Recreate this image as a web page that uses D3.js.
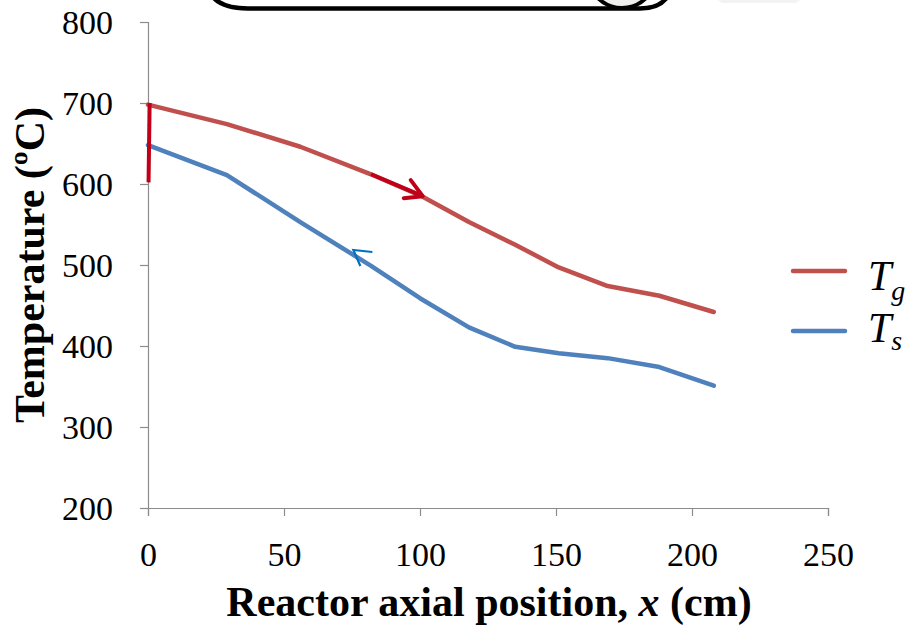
<!DOCTYPE html>
<html>
<head>
<meta charset="utf-8">
<script src="https://cdn.jsdelivr.net/npm/d3@7"></script>
<style>
  body { margin: 0; background: #fff; }
  svg text { font-family: "Liberation Serif", "Times New Roman", serif; }
</style>
</head>
<body>
<div id="grafica"></div>
<script>
"use strict";

// posicion axial (cm)
const posicion = [0, 29, 56, 82, 100, 118, 135, 151, 169, 188, 208];
// temperatura del gas
const tempGas = [698, 674, 646, 612, 586, 553, 525, 497, 474, 462, 442];
// temperatura del solido
const tempSolido = [648, 611, 553, 499, 459, 423, 399, 391, 385, 374, 351];
const ticksX = [0, 50, 100, 150, 200, 250];
const ticksY = [200, 300, 400, 500, 600, 700, 800];
const series = [
    { nombre: "g", valores: tempGas, color: "#C0504D" },
    { nombre: "s", valores: tempSolido, color: "#4F81BD" }
];
// anotaciones (en unidades de datos)
const lineaInicio = [[0.6, 700], [0.2, 602]];
const flechaGas = [[82, 612], [101, 585]];
const flechaSolido = [[77, 517], [75.5, 518.5]];

const width = 905, height = 628;
const svg = d3.select("#grafica").append("svg")
    .attr("width", width)
    .attr("height", height);

const x = d3.scaleLinear().domain([0, 250]).range([148, 828]);
const y = d3.scaleLinear().domain([200, 800]).range([508, 22]);

// recuadro recortado arriba
svg.append("path")
    .attr("d", "M718,0 L800,0 L796,3 L722,3 Z")
    .attr("fill", "#f3f3f3");
svg.append("path")
    .attr("d", "M212,-4 Q222,8.5 248,8.5 L640,8.5 Q660,8.5 668,-4")
    .attr("fill", "none")
    .attr("stroke", "#000")
    .attr("stroke-width", 4.5);
svg.append("circle")
    .attr("cx", 622)
    .attr("cy", -26)
    .attr("r", 34)
    .attr("fill", "#eeeeea")
    .attr("stroke", "#000")
    .attr("stroke-width", 4);

// ejes
const ejeY = svg.append("g")
    .attr("transform", "translate(" + x(0) + ",0)")
    .call(d3.axisLeft(y).tickValues(ticksY).tickSize(8).tickPadding(27).tickFormat(d3.format("d")));
const ejeX = svg.append("g")
    .attr("transform", "translate(0," + y(200) + ")")
    .call(d3.axisBottom(x).tickValues(ticksX).tickSize(8).tickPadding(26).tickFormat(d3.format("d")));
[ejeY, ejeX].forEach(function (eje) {
    eje.attr("font-family", null);
    eje.select(".domain").attr("stroke", "#8c8c8c").attr("stroke-width", 1.2);
    eje.selectAll(".tick line").attr("stroke", "#8c8c8c").attr("stroke-width", 1.2);
    eje.selectAll(".tick text")
        .attr("fill", "#000")
        .style("font-size", "34px");
});
ejeY.selectAll(".tick text").attr("dy", "0.34em");

// titulos de ejes
svg.append("text")
    .attr("transform", "translate(44,265) rotate(-90)")
    .attr("text-anchor", "middle")
    .style("font-size", "42px")
    .style("font-weight", "bold")
    .text("Temperature (ºC)");
const tituloX = svg.append("text")
    .attr("x", 489)
    .attr("y", 616)
    .attr("text-anchor", "middle")
    .style("font-size", "42px")
    .style("font-weight", "bold");
tituloX.append("tspan").text("Reactor axial position, ");
tituloX.append("tspan").style("font-style", "italic").text("x");
tituloX.append("tspan").text(" (cm)");

// curvas
const linea = d3.line()
    .x((d, i) => x(posicion[i]))
    .y((d) => y(d));
svg.selectAll(".serie")
    .data(series)
    .enter().append("path")
    .attr("class", "serie")
    .attr("d", (d) => linea(d.valores))
    .attr("fill", "none")
    .attr("stroke", (d) => d.color)
    .attr("stroke-width", 4.5)
    .attr("stroke-linejoin", "round")
    .attr("stroke-linecap", "round");

// anotaciones
const lineaXY = d3.line().x((d) => x(d[0])).y((d) => y(d[1]));
svg.append("path")
    .attr("d", lineaXY(lineaInicio))
    .attr("stroke", "#C00018")
    .attr("stroke-width", 4)
    .attr("fill", "none");
svg.append("path")
    .attr("d", lineaXY(flechaGas))
    .attr("stroke", "#C00018")
    .attr("stroke-width", 4)
    .attr("fill", "none");
const puntaG = flechaGas[1];
svg.append("path")
    .attr("d", "M" + (x(puntaG[0]) - 12) + "," + (y(puntaG[1]) - 16) +
        " L" + x(puntaG[0]) + "," + y(puntaG[1]) +
        " L" + (x(puntaG[0]) - 19) + "," + (y(puntaG[1]) + 2))
    .attr("stroke", "#C00018")
    .attr("stroke-width", 4)
    .attr("stroke-linecap", "round")
    .attr("stroke-linejoin", "round")
    .attr("fill", "none");
const puntaS = flechaSolido[1];
svg.append("path")
    .attr("d", "M" + (x(puntaS[0]) + 19) + "," + (y(puntaS[1]) + 2) +
        " L" + x(puntaS[0]) + "," + y(puntaS[1]) +
        " L" + (x(puntaS[0]) + 7) + "," + (y(puntaS[1]) + 16))
    .attr("stroke", "#0070C0")
    .attr("stroke-width", 2.2)
    .attr("fill", "none");

// leyenda
const posLeyenda = [{ linea: 271, texto: 290 }, { linea: 331, texto: 342 }];
const leyenda = svg.selectAll(".leyenda")
    .data(series)
    .enter().append("g")
    .attr("class", "leyenda");
leyenda.append("line")
    .attr("x1", 793).attr("x2", 845)
    .attr("y1", (d, i) => posLeyenda[i].linea)
    .attr("y2", (d, i) => posLeyenda[i].linea)
    .attr("stroke", (d) => d.color)
    .attr("stroke-width", 4.5)
    .attr("stroke-linecap", "round");
const textoLey = leyenda.append("text")
    .attr("x", 868)
    .attr("y", (d, i) => posLeyenda[i].texto)
    .style("font-size", "42px")
    .style("font-style", "italic");
textoLey.append("tspan").text("T");
textoLey.append("tspan")
    .attr("dy", (d, i) => i == 0 ? 10 : 8)
    .style("font-size", "28px")
    .text((d) => d.nombre);
</script>
</body>
</html>
